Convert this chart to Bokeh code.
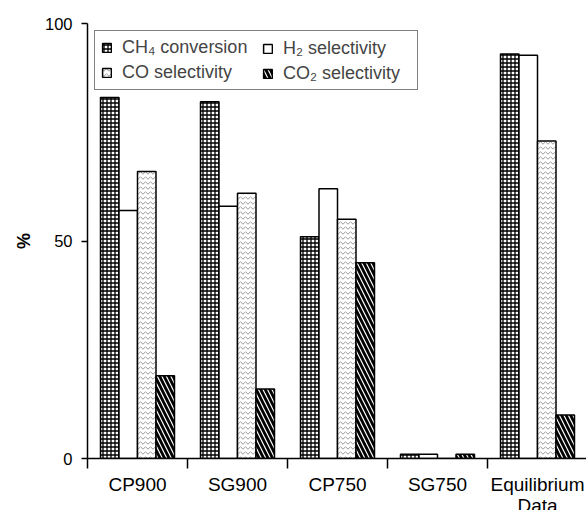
from bokeh.plotting import figure
from bokeh.models import ColumnDataSource, FixedTicker, Legend, LegendItem, Range1d
from bokeh.transform import dodge
from bokeh.embed import file_html
from bokeh.resources import INLINE

# ---- data ----
categories = ["CP900", "SG900", "CP750", "SG750", "Equilibrium\nData"]
ch4_conversion = [83, 82, 51, 1, 93]
h2_selectivity = [57, 58, 62, 1, 92.7]
co_selectivity = [66, 61, 55, 0, 73]
co2_selectivity = [19, 16, 45, 1, 10]
y_ticks = [0, 50, 100]

centers = [i + 0.5 for i in range(len(categories))]
boundaries = list(range(len(categories) + 1))

src = ColumnDataSource(dict(x=centers, ch4=ch4_conversion, h2=h2_selectivity,
                            co=co_selectivity, co2=co2_selectivity))

FONT = "Liberation Sans"

p = figure(frame_width=499, frame_height=435, x_range=Range1d(0, 4.99), y_range=Range1d(0, 100),
           output_backend="svg", toolbar_location=None, title=None,
           min_border_left=87, min_border_right=0, min_border_top=23, min_border_bottom=0)
p.outline_line_color = None
p.xgrid.grid_line_color = None
p.ygrid.grid_line_color = None
p.background_fill_color = "white"

bw = 0.185
offs = [-1.5 * bw, -0.5 * bw, 0.5 * bw, 1.5 * bw]
common = dict(width=bw, source=src, fill_color="white", line_color="black", line_width=1.5)

r_ch4 = p.vbar(x=dodge("x", offs[0], range=p.x_range), top="ch4",
               hatch_pattern="cross", hatch_color="black",
               hatch_scale=4, hatch_weight=1.3, **common)
r_h2 = p.vbar(x=dodge("x", offs[1], range=p.x_range), top="h2", **common)
r_co = p.vbar(x=dodge("x", offs[2], range=p.x_range), top="co",
              hatch_pattern="horizontal_wave", hatch_color="#999999",
              hatch_scale=5, hatch_weight=1, **common)
r_co2 = p.vbar(x=dodge("x", offs[3], range=p.x_range), top="co2",
               hatch_pattern="left_diagonal_line", hatch_color="black",
               hatch_scale=9, hatch_weight=2.8, **common)


def style_legend(lg):
    lg.label_text_font = FONT
    lg.label_text_font_size = "18px"
    lg.glyph_width = 11
    lg.glyph_height = 11
    lg.label_standoff = 10
    lg.spacing = 4
    lg.padding = 6


# left column legend carries the frame box
legend1 = Legend(items=[
    LegendItem(label="CH\u2084 conversion", renderers=[r_ch4]),
    LegendItem(label="CO selectivity", renderers=[r_co]),
], location="top_left")
style_legend(legend1)
legend1.margin = 7
legend1.label_width = 289
legend1.border_line_color = "black"
legend1.border_line_width = 1.5
legend1.background_fill_color = "white"
legend1.background_fill_alpha = 1
p.add_layout(legend1)

# right column legend
legend2 = Legend(items=[
    LegendItem(label="H\u2082 selectivity", renderers=[r_h2]),
    LegendItem(label="CO\u2082 selectivity", renderers=[r_co2]),
], location=(175, 374))
style_legend(legend2)
legend2.margin = 0
legend2.border_line_color = None
legend2.background_fill_alpha = 0
p.add_layout(legend2)

# x axis
xa = p.xaxis[0]
xa.ticker = FixedTicker(ticks=centers, minor_ticks=boundaries)
xa.major_label_overrides = {c: lab for c, lab in zip(centers, categories)}
xa.major_tick_line_color = None
xa.major_tick_out = 10
xa.major_tick_in = 0
xa.minor_tick_out = 10
xa.minor_tick_in = 0
xa.minor_tick_line_color = "black"
xa.minor_tick_line_width = 1.5
xa.axis_line_color = "black"
xa.axis_line_width = 1.5
xa.major_label_text_font = FONT
xa.major_label_text_font_size = "19px"
xa.major_label_text_color = "black"
xa.major_label_text_line_height = 1.0
xa.major_label_standoff = 5

# y axis
ya = p.yaxis[0]
ya.ticker = FixedTicker(ticks=y_ticks)
ya.minor_tick_line_color = None
ya.major_tick_out = 6
ya.major_tick_in = 0
ya.major_tick_line_color = "black"
ya.major_tick_line_width = 1.5
ya.axis_line_color = "black"
ya.axis_line_width = 1.5
ya.major_label_text_font = FONT
ya.major_label_text_font_size = "16.5px"
ya.major_label_text_color = "black"
ya.major_label_standoff = 9
ya.axis_label = "%"
ya.axis_label_text_font = FONT
ya.axis_label_text_font_size = "18px"
ya.axis_label_text_font_style = "bold"
ya.axis_label_text_color = "black"
ya.axis_label_standoff = 8

open("out.html", "w").write(file_html(p, INLINE))
